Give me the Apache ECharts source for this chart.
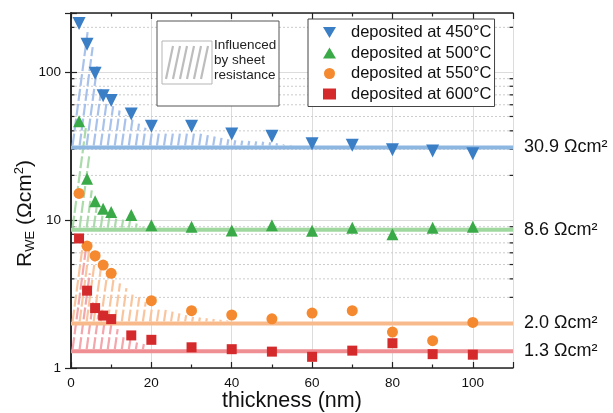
<!DOCTYPE html>
<html><head><meta charset="utf-8">
<script src="https://cdn.jsdelivr.net/npm/echarts@6/dist/echarts.min.js"></script>
<style>html,body{margin:0;padding:0;background:#fff}#c{width:613px;height:413px}</style>
</head><body><div id="c"></div>
<script>
// ---- data ----
const thk450 = [2,4,6,8,10,15,20,30,40,50,60,70,80,90,100];
const r450   = [212,154,98,69,64,52,43,43,38,36.7,32.7,31.9,29.8,29.2,28.0];
const thk500 = [2,4,6,8,10,15,20,30,40,50,60,70,80,90,100];
const r500   = [46.5,19.0,13.4,11.9,11.3,10.8,9.2,9.0,8.5,9.2,8.45,8.85,8.0,8.85,9.0];
const thk550 = [2,4,6,8,10,20,30,40,50,60,70,80,90,100];
const r550   = [15.1,6.66,5.73,4.96,4.36,2.85,2.44,2.28,2.15,2.35,2.44,1.75,1.53,2.03];
const thk600 = [2,4,6,8,10,15,20,30,40,50,60,70,80,90,100];
const r600   = [7.5,3.33,2.54,2.26,2.14,1.66,1.55,1.38,1.34,1.29,1.19,1.31,1.47,1.24,1.23];
const fitValues = [30.9, 8.6, 2.0, 1.3];
const fitLabels = ['30.9 Ωcm²', '8.6 Ωcm²', '2.0 Ωcm²', '1.3 Ωcm²'];
const seriesNames = ['deposited at 450°C', 'deposited at 500°C', 'deposited at 550°C', 'deposited at 600°C'];
const hatchEnd = [58, 20, 40, 19];           // thickness up to which sheet resistance influences
const hatchCap = [250, 250, 7, 6.5];         // upper bound of the hatched band
const xTickLabels = [0, 20, 40, 60, 80, 100];
const yTickLabels = [1, 10, 100];
const yMinorGrid = [2,3,4,5,6,7,8,9,20,30,40,50,60,70,80,90,200];

// ---- style ----
const FONT = 'Liberation Sans, Arial, sans-serif';
const markerColors = ['#3a7ec6', '#3aaa48', '#f5892f', '#d42a2c'];
const fitColors    = ['#8db7e0', '#9fd79f', '#f8b98b', '#ef8e93'];
const hatchColors  = ['#a3bfea', '#a6d9a6', '#f9c29a', '#f2a1a7'];
const symbols = ['triangle', 'triangle', 'circle', 'rect'];
const symRot  = [180, 0, 0, 0];
const symSize = [13, 12, 11, 10];
const XMAX = 110, YMIN = 1, YMAX = 250;
const TILT = 0.13, OFFS = 0.04;

const xs = [thk450, thk500, thk550, thk600];
const ys = [r450, r500, r550, r600];

function interpLog(xArr, yArr, x) {
  if (x <= xArr[0]) return Math.log10(yArr[0]);
  for (let i = 1; i < xArr.length; i++) {
    if (x <= xArr[i]) {
      const t = (x - xArr[i-1]) / (xArr[i] - xArr[i-1]);
      return Math.log10(yArr[i-1]) * (1 - t) + Math.log10(yArr[i]) * t;
    }
  }
  return Math.log10(yArr[yArr.length - 1]);
}

// hatch line positions (pattern)
const hatchData = [];
for (let s = 0; s < 4; s++) {
  for (let x = 0.4; x <= hatchEnd[s]; x += 1.75) hatchData.push([x, fitValues[s], s]);
}

const series = [];
series.push({
  type: 'custom', name: 'minor', z: 0, silent: true,
  data: yMinorGrid.map(v => [0, v]),
  encode: { x: 0, y: 1 },
  renderItem: (params, api) => {
    const v = api.value(1);
    const l = api.coord([0, v]), r = api.coord([XMAX, v]);
    return { type: 'group', children: [
      { type: 'line', shape: { x1: l[0], y1: l[1], x2: r[0], y2: r[1] }, style: { stroke: '#cccccc', lineWidth: 1, lineDash: [2, 2] } },
      { type: 'line', shape: { x1: l[0], y1: l[1], x2: l[0] + 3.5, y2: l[1] }, style: { stroke: '#222', lineWidth: 1.2 } },
      { type: 'line', shape: { x1: r[0] - 3.5, y1: r[1], x2: r[0], y2: r[1] }, style: { stroke: '#222', lineWidth: 1.2 } }
    ]};
  }
});
series.push({
  type: 'custom', name: 'hatch', z: 1, silent: true,
  data: hatchData,
  encode: { x: 0, y: 1 },
  renderItem: (params, api) => {
    const x = api.value(0), s = api.value(2);
    const fit = fitValues[s];
    const p0 = api.coord([x, fit]);
    const unit = api.coord([x + 1, fit])[0] - p0[0];
    let logTop = Math.min(interpLog(xs[s], ys[s], x) - OFFS, Math.log10(hatchCap[s]));
    for (let k = 0; k < 2; k++) {
      const ptop = api.coord([x, Math.pow(10, logTop)]);
      const xt = x + 0.5 * TILT * (p0[1] - ptop[1]) / unit;
      logTop = Math.min(interpLog(xs[s], ys[s], xt) - OFFS, Math.log10(hatchCap[s]));
    }
    if (logTop <= Math.log10(fit) + 0.006) return;
    const p1 = api.coord([x, Math.pow(10, logTop)]);
    const h = p0[1] - p1[1];
    return { type: 'line', shape: { x1: p0[0], y1: p0[1] - 2, x2: p0[0] + TILT * h, y2: p1[1] },
      style: { stroke: hatchColors[s], lineWidth: 2.2, opacity: 0.95, lineDash: [12, 3] } };
  }
});
for (let s = 0; s < 4; s++) {
  series.push({
    type: 'line', name: 'fit' + s, z: 2, silent: true, showSymbol: false,
    data: [[0, fitValues[s]], [XMAX, fitValues[s]]],
    lineStyle: { color: fitColors[s], width: 4 },
    itemStyle: { color: fitColors[s] },
    endLabel: { show: true, formatter: fitLabels[s], color: '#111', fontSize: 18, fontFamily: FONT, distance: 11 }
  });
}
for (let s = 0; s < 4; s++) {
  series.push({
    type: 'scatter', name: seriesNames[s], z: 4,
    data: xs[s].map((x, i) => [x, ys[s][i]]),
    symbol: symbols[s], symbolRotate: symRot[s], symbolSize: symSize[s],
    itemStyle: { color: markerColors[s], opacity: 1 }
  });
}

const chart = echarts.init(document.getElementById('c'), null, { renderer: 'canvas' });
chart.setOption({
  animation: false,
  backgroundColor: '#fff',
  textStyle: { fontFamily: FONT },
  grid: { left: 71, right: 100, top: 13, bottom: 45, containLabel: false, outerBoundsMode: 'none' },
  legend: {
    data: seriesNames.map((n, i) => i === 0 ? { name: n, icon: 'path://M0,0L12,0L6,10Z' } : { name: n }),
    orient: 'vertical', left: 308, top: 19,
    padding: [5, 3, 4, 15], itemGap: 3.5, itemWidth: 13, itemHeight: 11,
    backgroundColor: '#fff', borderColor: '#444', borderWidth: 1, borderRadius: 0,
    textStyle: { fontSize: 16.5, color: '#111', fontFamily: FONT, lineHeight: 17, padding: [0, 0, 0, 10] },
    selectedMode: false
  },
  xAxis: [{
    type: 'value', min: 0, max: XMAX, interval: 20, position: 'bottom',
    name: 'thickness (nm)', nameLocation: 'middle', nameGap: 22, nameMoveOverlap: false,
    nameTextStyle: { fontSize: 21.5, color: '#111', fontFamily: FONT },
    axisLine: { show: true, lineStyle: { color: '#222', width: 1.5 } },
    axisTick: { inside: true, length: 6, lineStyle: { color: '#222', width: 1.2 } },
    minorTick: { show: true, splitNumber: 2, length: 3.5, lineStyle: { color: '#222', width: 1.2 } },
    axisLabel: { fontSize: 13.5, color: '#111', margin: 8, fontFamily: FONT,
      formatter: v => xTickLabels.includes(v) ? String(v) : '' },
    splitLine: { show: true, lineStyle: { color: '#dcdcdc', width: 1 } }
  }, {
    type: 'value', min: 0, max: XMAX, interval: 20, position: 'top',
    axisLine: { show: true, lineStyle: { color: '#222', width: 1.5 } },
    axisTick: { inside: true, length: 6, lineStyle: { color: '#222', width: 1.2 } },
    minorTick: { show: true, splitNumber: 2, length: 3.5, lineStyle: { color: '#222', width: 1.2 } },
    axisLabel: { show: false }, splitLine: { show: false }
  }],
  yAxis: [{
    type: 'log', logBase: 10, min: YMIN, max: YMAX, position: 'left',
    name: '{r|R}{sub|WE}{r| (Ωcm}{sup|2}{r|)}', nameLocation: 'middle', nameGap: 34, nameMoveOverlap: false,
    nameTextStyle: { fontSize: 21, color: '#111', fontFamily: FONT, padding: [0, 46, 0, 0],
      rich: {
        r: { fontSize: 21, fontFamily: FONT, color: '#111', lineHeight: 24 },
        sub: { fontSize: 13, fontFamily: FONT, color: '#111', verticalAlign: 'bottom', lineHeight: 13 },
        sup: { fontSize: 13, fontFamily: FONT, color: '#111', verticalAlign: 'top', lineHeight: 16 }
      } },
    axisLine: { show: true, lineStyle: { color: '#222', width: 1.5 } },
    axisTick: { inside: true, length: 6, lineStyle: { color: '#222', width: 1.2 } },
    axisLabel: { fontSize: 13.5, color: '#111', margin: 10, fontFamily: FONT,
      formatter: v => { const m = yTickLabels.find(t => Math.abs(t - v) / t < 1e-6); return m ? String(m) : ''; } },
    splitLine: { show: true, lineStyle: { color: '#dcdcdc', width: 1 } }
  }, {
    type: 'log', logBase: 10, min: YMIN, max: YMAX, position: 'right',
    axisLine: { show: true, lineStyle: { color: '#222', width: 1.5 } },
    axisTick: { inside: true, length: 6, lineStyle: { color: '#222', width: 1.2 } },
    axisLabel: { show: false }, splitLine: { show: false }
  }],
  graphic: [
    { type: 'rect', z: 10, shape: { x: 157, y: 21, width: 122, height: 85 }, style: { fill: '#fff', stroke: '#555', lineWidth: 1 } },
    { type: 'rect', z: 11, shape: { x: 162, y: 41, width: 50, height: 43 }, style: { fill: '#fff', stroke: '#b5b5b5', lineWidth: 1 } },
    ...[0,1,2,3,4,5].map(i => ({ type: 'line', z: 12,
      shape: { x1: 166 + i * 7, y1: 79, x2: 173 + i * 7, y2: 46 }, style: { stroke: '#bdbdbd', lineWidth: 2.2 } })),
    { type: 'text', z: 12, left: 214, top: 38,
      style: { text: 'Influenced\nby sheet\nresistance', fontSize: 13.5, lineHeight: 15, fill: '#222', fontFamily: FONT } }
  ],
  series: series
});
</script>
</body></html>
